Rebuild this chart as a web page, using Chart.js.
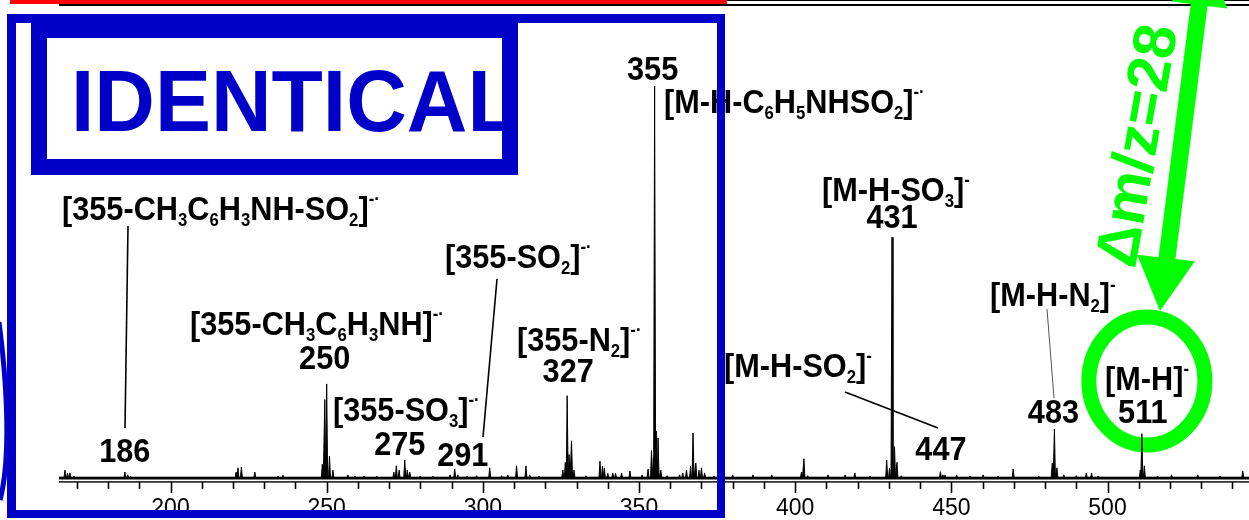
<!DOCTYPE html>
<html>
<head>
<meta charset="utf-8">
<script src="https://cdn.jsdelivr.net/npm/chart.js@4.4.1/dist/chart.umd.min.js"></script>
<style>
  html, body { margin: 0; padding: 0; background: #ffffff; }
  canvas { display: block; }
</style>
</head>
<body>
<canvas id="spectrum" width="1249" height="520"></canvas>
<script>
// MS/MS spectrum of the [M-H]- ion (m/z 511): peak positions and relative intensities (%)
const peakMz = [
  166.2, 167.0, 167.8, 169.0, 185.4, 186.3, 187.2,
  221.0, 221.6, 222.7, 227.0, 234.5, 236.0,
  248.6, 249.4, 250.0, 250.9, 252.0, 256.8, 259.0, 262.0, 266.0,
  271.5, 272.3, 273.2, 275.0, 275.8, 276.6, 280.0, 284.0, 289.5,
  291.0, 292.0, 295.0, 298.0, 302.2, 306.0, 308.0, 310.8, 313.8, 315.0, 318.0,
  325.6, 326.4, 327.0, 327.6, 328.4, 329.2, 333.0,
  337.5, 338.3, 338.9, 340.0, 341.6, 342.5, 344.4, 347.1, 351.0,
  352.9, 354.0, 354.6, 355.0, 355.6, 356.1, 357.0, 359.0,
  363.0, 364.0, 365.2, 366.5, 367.3, 368.2, 369.2, 370.0, 371.0, 374.0,
  380.0, 386.5, 392.5, 402.0, 402.8, 404.0, 410.5, 416.0, 419.1, 424.0,
  429.3, 430.2, 431.0, 431.8, 432.6, 434.0,
  446.5, 447.3, 448.0, 451.7, 456.0, 460.2, 465.0, 469.8, 478.0,
  482.3, 483.0, 483.8, 486.0, 490.0, 493.2, 494.9, 497.0,
  510.5, 511.0, 511.8, 516.0, 520.5, 528.9, 536.0, 543.3
];
const peakIntensity = [
  2.0, 1.2, 1.3, 0.5, 1.5, 0.8, 0.5,
  1.5, 2.6, 2.8, 1.5, 0.5, 0.7,
  3.5, 20, 24, 5.6, 2.0, 0.8, 0.5, 0.5, 0.5,
  1.5, 3.1, 2.0, 4.6, 2.0, 1.5, 0.5, 0.5, 0.8,
  2.3, 0.8, 0.5, 0.6, 2.6, 0.6, 0.8, 3.1, 3.1, 0.8, 0.5,
  2.0, 4.0, 21, 6.0, 9.5, 2.0, 0.6,
  4.3, 3.0, 2.6, 1.2, 1.3, 1.2, 1.3, 1.8, 0.8,
  2.3, 7.0, 5.0, 100, 12, 10.2, 2.0, 0.6,
  0.8, 1.3, 2.0, 3.0, 11.5, 3.8, 2.0, 2.6, 1.3, 0.5,
  0.8, 0.8, 0.8, 1.5, 4.9, 0.6, 0.8, 0.8, 1.3, 0.5,
  4.6, 2.5, 61.4, 8.0, 4.0, 0.6,
  1.6, 0.8, 0.8, 0.8, 0.5, 0.8, 0.5, 2.3, 0.5,
  3.8, 12.5, 2.6, 0.8, 0.6, 1.3, 1.3, 0.5,
  2.0, 11.3, 3.1, 0.5, 0.8, 0.8, 0.5, 1.8
];

// x axis: labelled ticks, minor ticks and visible m/z range
const tickValues = [200, 250, 300, 350, 400, 450, 500];
const minorTickValues = [170, 180, 190, 210, 220, 230, 240, 260, 270, 280, 290, 310, 320, 330, 340,
  360, 370, 380, 390, 410, 420, 430, 440, 460, 470, 480, 490, 510, 520, 530, 540];
const mzRange = [164.3, 545.3];

// fragment annotations: text (_x = subscript, ^ = superscript rest), anchor m/z, dx, baseline y, align
const fragmentLabels = [
  ['[355-CH_3C_6H_3NH-SO_2]^-\u00b7', null, 62, 220, 'left'],
  ['186', 186, -2, 462, 'center'],
  ['[355-CH_3C_6H_3NH]^-\u00b7', null, 190, 335, 'left'],
  ['250', 250, -2, 369, 'center'],
  ['[355-SO_3]^-\u00b7', null, 333, 421, 'left'],
  ['275', 275, -5, 455, 'center'],
  ['291', 291, 8, 466, 'center'],
  ['[355-SO_2]^-\u00b7', null, 445, 268, 'left'],
  ['[355-N_2]^-\u00b7', null, 517, 351, 'left'],
  ['327', 327, 1, 382, 'center'],
  ['355', 355, -2, 80, 'center'],
  ['[M-H-C_6H_5NHSO_2]^-\u00b7', null, 664, 113, 'left'],
  ['[M-H-SO_3]^-', null, 822, 201, 'left'],
  ['431', 431, 0, 228, 'center'],
  ['[M-H-SO_2]^-', null, 724, 377, 'left'],
  ['447', 447, -1, 460, 'center'],
  ['[M-H-N_2]^-', null, 990, 306, 'left'],
  ['483', 483, -1, 423, 'center'],
  ['[M-H]^-', null, 1105, 390, 'left'],
  ['511', 511, 1, 423, 'center']
];

// leader lines between fragment names and their peaks
const leaderLines = [
  [128, 226, 125, 428, 1.6, '#000'],
  [497, 279, 483, 437, 1.6, '#000'],
  [845, 392, 938, 428, 1.6, '#000'],
  [1047, 309, 1054, 398, 1.0, '#555']
];

const FONT = '"Liberation Sans", Arial, Helvetica, sans-serif';
const BLUE = '#0000c8';
const GREEN = '#00ff00';

// triangular profile around each centroid so the spectrum reads as a continuous trace
function buildProfile() {
  const pts = [{ x: mzRange[0], y: 0 }];
  peakMz.forEach((m, i) => {
    pts.push({ x: m - 0.32, y: 0 });
    pts.push({ x: m, y: peakIntensity[i] });
    pts.push({ x: m + 0.32, y: 0 });
  });
  pts.push({ x: mzRange[1], y: 0 });
  return pts;
}

function parseRich(str) {
  const parts = [];
  let buf = '';
  for (let i = 0; i < str.length; i++) {
    const ch = str[i];
    if (ch === '_') {
      if (buf) { parts.push([buf, 'n']); buf = ''; }
      parts.push([str[i + 1], 'sub']);
      i++;
    } else if (ch === '^') {
      if (buf) { parts.push([buf, 'n']); buf = ''; }
      parts.push([str.slice(i + 1), 'sup']);
      break;
    } else {
      buf += ch;
    }
  }
  if (buf) parts.push([buf, 'n']);
  return parts;
}

function drawRich(ctx, str, x, y, align, size, sx) {
  const parts = parseRich(str);
  const fontOf = k => 'bold ' + (k === 'n' ? size : Math.round(size * 0.55)) + 'px ' + FONT;
  let total = 0;
  const widths = parts.map(p => { ctx.font = fontOf(p[1]); const w = ctx.measureText(p[0]).width; total += w; return w; });
  ctx.save();
  ctx.translate(x, y);
  ctx.scale(sx, 1);
  let cx = align === 'center' ? -total / 2 : 0;
  ctx.fillStyle = '#000';
  ctx.textAlign = 'left';
  ctx.textBaseline = 'alphabetic';
  parts.forEach((p, i) => {
    ctx.font = fontOf(p[1]);
    const dy = p[1] === 'sub' ? size * 0.17 : (p[1] === 'sup' ? -size * 0.45 : 0);
    ctx.fillText(p[0], cx, dy);
    cx += widths[i];
  });
  ctx.restore();
}

function arrowHead(ctx, tipX, tipY, baseX, baseY, halfW) {
  const dx = tipX - baseX, dy = tipY - baseY, L = Math.hypot(dx, dy);
  const nx = -dy / L, ny = dx / L;
  ctx.beginPath();
  ctx.moveTo(tipX, tipY);
  ctx.lineTo(baseX + nx * halfW, baseY + ny * halfW);
  ctx.lineTo(baseX - nx * halfW, baseY - ny * halfW);
  ctx.closePath();
  ctx.fill();
}

// green ring around the precursor ion (under the trace)
const ringPlugin = {
  id: 'precursorRing',
  beforeDatasetsDraw(chart) {
    const ctx = chart.ctx;
    const xs = chart.scales.x;
    ctx.save();
    ctx.strokeStyle = GREEN;
    ctx.lineWidth = 15;
    ctx.beginPath();
    ctx.ellipse(xs.getPixelForValue(511) + 5, 381, 58, 64, 0, 0, Math.PI * 2);
    ctx.stroke();
    ctx.restore();
  }
};

// axis lines, ticks, annotations and frames
const decorPlugin = {
  id: 'spectrumDecor',
  afterDraw(chart) {
    const ctx = chart.ctx;
    const xs = chart.scales.x;
    const area = chart.chartArea;
    ctx.save();

    // double axis line with tick marks
    ctx.fillStyle = '#000';
    ctx.fillRect(area.left, area.bottom - 1.3, chart.width - area.left, 2.8);
    ctx.fillRect(area.left, area.bottom + 3.2, chart.width - area.left, 1.4);
    ctx.strokeStyle = '#000';
    ctx.lineWidth = 1.6;
    minorTickValues.forEach(v => {
      const px = Math.round(xs.getPixelForValue(v)) + 0.5;
      ctx.beginPath(); ctx.moveTo(px, area.bottom + 4); ctx.lineTo(px, area.bottom + 11); ctx.stroke();
    });
    tickValues.forEach(v => {
      const px = Math.round(xs.getPixelForValue(v)) + 0.5;
      ctx.beginPath(); ctx.moveTo(px, area.bottom + 4); ctx.lineTo(px, area.bottom + 15); ctx.stroke();
    });

    // panel edge above
    ctx.fillStyle = '#ff0000';
    ctx.fillRect(10, 0, 717, 4);
    ctx.fillStyle = '#000';
    ctx.fillRect(area.left, 4, chart.width - area.left, 2);
    ctx.fillRect(727, 0, chart.width - 727, 1);

    // leader lines
    leaderLines.forEach(([x1, y1, x2, y2, w, c]) => {
      ctx.strokeStyle = c;
      ctx.lineWidth = w;
      ctx.beginPath(); ctx.moveTo(x1, y1); ctx.lineTo(x2, y2); ctx.stroke();
    });

    // fragment labels
    fragmentLabels.forEach(([txt, mz, dx, y, align]) => {
      const x = mz === null ? dx : xs.getPixelForValue(mz) + dx;
      drawRich(ctx, txt, x, y, align, 33, 0.93);
    });

    // blue frames
    ctx.fillStyle = BLUE;
    ctx.fillRect(7, 14, 718, 9);      // outer top
    ctx.fillRect(7, 14, 9, 504);      // outer left
    ctx.fillRect(717, 14, 8, 504);    // outer right
    ctx.fillRect(7, 510, 718, 8);     // outer bottom
    ctx.fillRect(31, 14, 487, 24);    // title box top
    ctx.fillRect(31, 23, 16, 152);    // title box left
    ctx.fillRect(502, 23, 16, 152);   // title box right
    ctx.fillRect(31, 159, 487, 16);   // title box bottom
    ctx.save();
    ctx.translate(71, 131);
    ctx.scale(0.965, 1);
    ctx.font = 'bold 87px ' + FONT;
    ctx.textBaseline = 'alphabetic';
    ctx.fillText('IDENTICAL', 0, 0);
    ctx.restore();

    // curved bracket at the left edge
    ctx.strokeStyle = BLUE;
    ctx.lineWidth = 5;
    ctx.beginPath();
    ctx.moveTo(-1, 322);
    ctx.bezierCurveTo(6, 375, 12, 455, 0, 500);
    ctx.stroke();

    // mass difference arrow
    ctx.fillStyle = GREEN;
    ctx.strokeStyle = GREEN;
    ctx.lineWidth = 17;
    ctx.lineCap = 'butt';
    ctx.beginPath(); ctx.moveTo(1199.5, 2); ctx.lineTo(1166.5, 262); ctx.stroke();
    arrowHead(ctx, 1160, 311, 1166, 258, 29);
    arrowHead(ctx, 1205.7, -44.6, 1199.5, 5, 28);
    ctx.save();
    ctx.translate(1140, 146);
    ctx.rotate(-80 * Math.PI / 180);
    ctx.font = 'bold 60px ' + FONT;
    ctx.textAlign = 'center';
    ctx.textBaseline = 'middle';
    ctx.fillText('\u0394m/z=28', 0, 0);
    ctx.restore();

    ctx.restore();
  }
};

new Chart(document.getElementById('spectrum'), {
  type: 'line',
  data: {
    datasets: [{
      data: buildProfile(),
      borderColor: '#000',
      backgroundColor: '#000',
      borderWidth: 1,
      pointRadius: 0,
      tension: 0,
      fill: 'origin',
      clip: false
    }]
  },
  options: {
    responsive: false,
    animation: false,
    events: [],
    layout: { padding: { left: 59, right: 0, top: 86, bottom: 0 } },
    plugins: { legend: { display: false }, tooltip: { enabled: false } },
    scales: {
      x: {
        type: 'linear',
        min: mzRange[0],
        max: mzRange[1],
        afterBuildTicks: s => { s.ticks = tickValues.map(v => ({ value: v })); },
        afterFit: s => { s.height = 42; },
        grid: { display: false, drawTicks: false },
        border: { display: false },
        ticks: {
          autoSkip: false,
          maxRotation: 0,
          padding: 17,
          color: '#000',
          font: { family: FONT, size: 23 }
        }
      },
      y: {
        display: false,
        min: 0,
        max: 100
      }
    }
  },
  plugins: [ringPlugin, decorPlugin]
});
</script>
</body>
</html>
